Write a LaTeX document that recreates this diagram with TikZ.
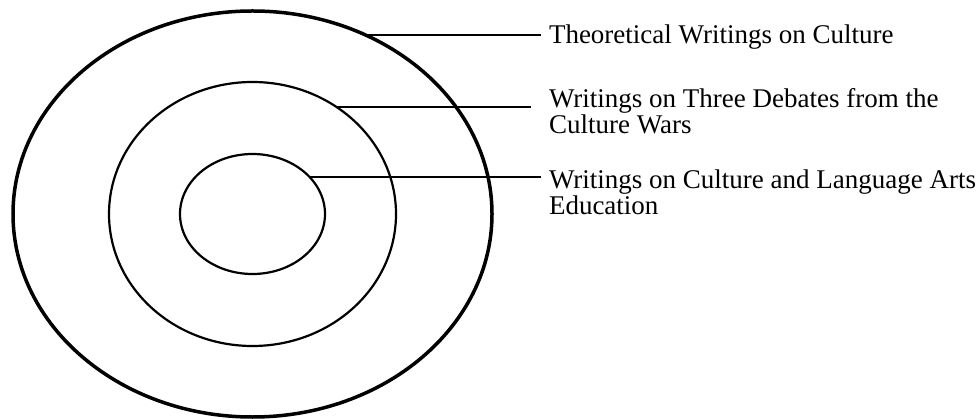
\documentclass[tikz,border=0pt]{standalone}
\usepackage{fontspec}
\setmainfont{Liberation Serif}
\usetikzlibrary{shapes.geometric}
\begin{document}
\begin{tikzpicture}[x=1pt,y=-1pt,
  ring/.style={draw=black,ellipse,inner sep=0pt,outer sep=0pt},
  leader/.style={draw=black,line width=1.8pt},
  lbl/.style={anchor=north west,inner sep=0pt,outer sep=0pt,align=left,
    font=\fontsize{27}{26.5}\selectfont}]
\useasboundingbox (0,0) rectangle (976,419);
\node[ring,line width=3.5pt,minimum width=479pt,minimum height=406pt] (outer) at (252.5,214) {};
\node[ring,line width=2.2pt,minimum width=287pt,minimum height=264pt] (middle) at (252.5,214) {};
\node[ring,line width=2.2pt,minimum width=145pt,minimum height=120pt] (inner) at (252.5,214) {};
\node[lbl] (l1) at (549,24.9) {Theoretical Writings on Culture};
\node[lbl] (l2) at (549,88.3) {Writings on Three Debates from the\\Culture Wars};
\node[lbl] (l3) at (549,169.6) {Writings on Culture and Language Arts\\Education};
\coordinate (e1) at (541,33);
\coordinate (e2) at (531,106);
\coordinate (e3) at (541,177);
\draw[leader] (outer.58.7) -- (outer.58.7 -| e1);
\draw[leader] (middle.52.7) -- (middle.52.7 -| e2);
\draw[leader] (inner.33.4) -- (inner.33.4 -| e3);
\end{tikzpicture}
\end{document}
